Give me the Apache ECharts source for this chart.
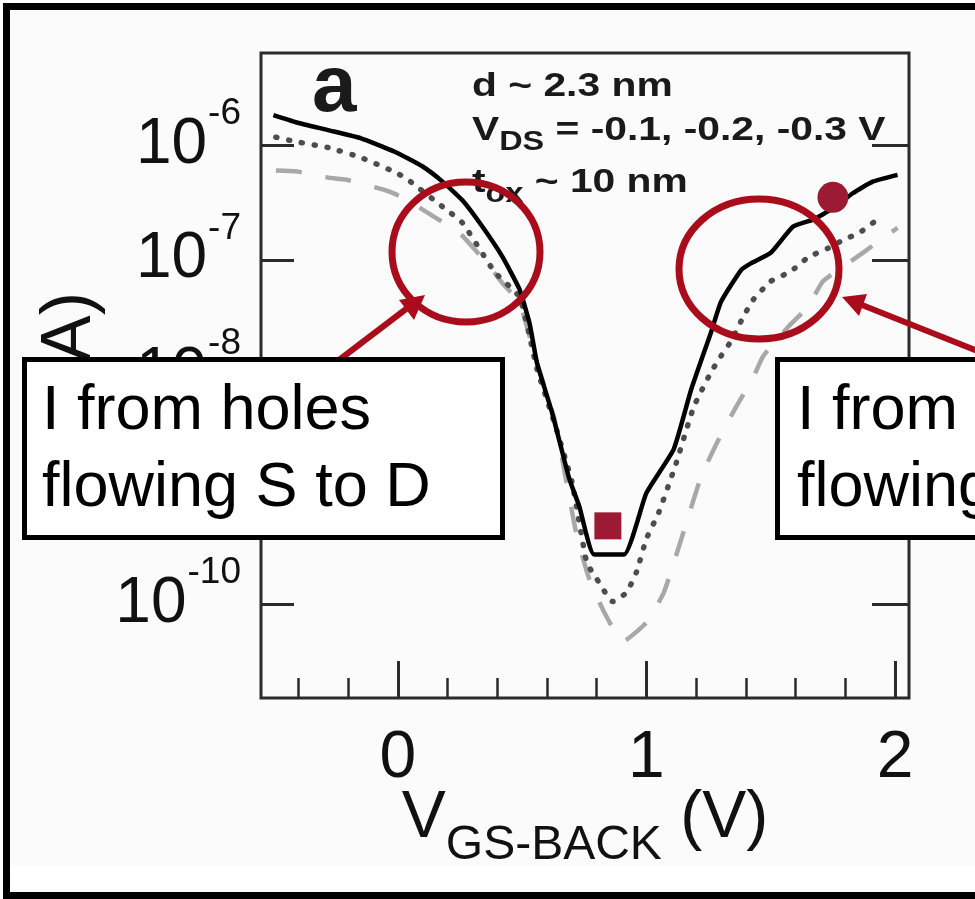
<!DOCTYPE html>
<html>
<head>
<meta charset="utf-8">
<script src="https://cdn.jsdelivr.net/npm/echarts@6/dist/echarts.min.js"></script>
<style>
  html, body { margin: 0; padding: 0; background: #fff; }
  #chart { width: 975px; height: 899px; }
</style>
</head>
<body>
<div id="chart"></div>
<script>
// Back-gate transfer curves, drain current (A) vs V_GS-BACK (V)
// V_DS = -0.1 V (solid)
const vgsSolid = [-0.50, -0.41, -0.28, -0.15, -0.01, 0.10, 0.18, 0.26, 0.34, 0.42, 0.49, 0.53, 0.56, 0.62, 0.69, 0.73, 0.79,
                  0.91, 1.00, 1.11, 1.18, 1.26, 1.30, 1.38, 1.42, 1.50, 1.59, 1.67, 1.75, 1.83, 1.91, 2.01];
const idSolid = [1.82e-6, 1.58e-6, 1.35e-6, 1.15e-6, 8.7e-7, 6.5e-7, 4.8e-7, 3.3e-7, 1.95e-7, 1.07e-7, 5.5e-8, 2.8e-8, 1.26e-8,
                 4.7e-9, 1.23e-9, 7.1e-10, 2.7e-10, 2.7e-10, 9.3e-10, 2.24e-9, 7.4e-9, 2.34e-8, 4.3e-8, 8.1e-8, 9.3e-8,
                 1.15e-7, 1.95e-7, 2.24e-7, 2.8e-7, 3.8e-7, 4.8e-7, 5.5e-7];

// V_DS = -0.2 V (dotted)
const vgsDotted = [-0.49, -0.41, -0.28, -0.15, -0.01, 0.04, 0.18, 0.26, 0.39, 0.49, 0.56, 0.63, 0.70, 0.76, 0.80, 0.865,
                   0.92, 0.96, 1.00, 1.05, 1.12, 1.19, 1.26, 1.30, 1.34, 1.39, 1.43, 1.50, 1.58, 1.65, 1.73, 1.79, 1.86, 1.94];
const idDotted = [1.17e-6, 1.07e-6, 9.5e-7, 7.8e-7, 5.8e-7, 5.0e-7, 2.9e-7, 2.1e-7, 7.8e-8, 4.7e-8, 1.12e-8, 3.8e-9, 1.17e-9,
                  2.3e-10, 1.66e-10, 1.05e-10, 1.26e-10, 1.9e-10, 3.7e-10, 6.3e-10, 1.7e-9, 5.2e-9, 1.05e-8, 1.45e-8, 1.95e-8,
                  3.2e-8, 4.5e-8, 6.5e-8, 7.9e-8, 1.05e-7, 1.26e-7, 1.48e-7, 1.74e-7, 2.34e-7];

// V_DS = -0.3 V (dashed)
const vgsDashed = [-0.49, -0.41, -0.28, -0.21, -0.06, 0.02, 0.15, 0.25, 0.37, 0.42, 0.49, 0.56, 0.63, 0.72, 0.77, 0.83, 0.905,
                   1.00, 1.07, 1.15, 1.22, 1.29, 1.36, 1.43, 1.47, 1.57, 1.65, 1.71, 1.81, 1.87, 2.01];
const idDashed = [6.0e-7, 5.9e-7, 5.2e-7, 5.0e-7, 4.1e-7, 3.5e-7, 2.34e-7, 1.7e-7, 8.7e-8, 6.3e-8, 4.2e-8, 1.26e-8, 4.1e-9,
                  3.9e-10, 1.66e-10, 8.5e-11, 4.7e-11, 6.9e-11, 1.26e-10, 4.3e-10, 1.29e-9, 2.7e-9, 5.2e-9, 9.5e-9, 1.45e-8,
                  2.6e-8, 3.9e-8, 6.5e-8, 9.3e-8, 1.15e-7, 1.9e-7];

// Highlighted operating points [V, A]
const pointSquare = [0.845, 4.8e-10];
const pointCircle = [1.75, 3.5e-7];

// Axis ticks
const xMajorTicks = [0, 1, 2];
const xMinorTicks = [-0.4, -0.2, 0.2, 0.4, 0.6, 0.8, 1.2, 1.4, 1.6, 1.8];
const yDecades = [-10, -9, -8, -7, -6];

const FONT = '"Liberation Sans", Arial, Helvetica, sans-serif';
const RED = '#a90d1b';
const MARK = '#9c1a33';

const toLog = (xs, ys) => xs.map((v, i) => [v, Math.log10(ys[i])]);

const chart = echarts.init(document.getElementById('chart'), null, { renderer: 'canvas' });

const tickStyle = { color: '#2b2b2b', width: 3 };
const noLine = { show: false, onZero: false };

const option = {
  backgroundColor: '#ffffff',
  animation: false,
  grid: {
    left: 261, right: 66, top: 53, bottom: 201,
    show: true, borderColor: '#2b2b2b', borderWidth: 3, backgroundColor: 'transparent'
  },
  xAxis: [
    {
      type: 'value', position: 'bottom', min: -0.55, max: 2.056,
      axisLine: noLine,
      splitLine: { show: false },
      axisTick: { show: true, inside: true, length: 37, customValues: xMajorTicks, lineStyle: tickStyle },
      axisLabel: {
        customValues: xMajorTicks, margin: 28,
        fontFamily: FONT, fontSize: 66, color: '#111', lineHeight: 66
      },
      name: '{v|V}{s|GS-BACK}{p| (V)}',
      nameLocation: 'middle',
      nameGap: 106,
      nameMoveOverlap: false,
      nameTextStyle: {
        rich: {
          v: { fontFamily: FONT, fontSize: 66, lineHeight: 66, color: '#111', verticalAlign: 'bottom', padding: [0, 0, 18, 0] },
          s: { fontFamily: FONT, fontSize: 48, lineHeight: 48, color: '#111', verticalAlign: 'bottom' },
          p: { fontFamily: FONT, fontSize: 66, lineHeight: 66, color: '#111', verticalAlign: 'bottom', padding: [0, 0, 18, 0] }
        }
      }
    },
    {
      type: 'value', position: 'bottom', min: -0.55, max: 2.056,
      axisLine: noLine,
      splitLine: { show: false },
      axisTick: { show: true, inside: true, length: 20, customValues: xMinorTicks, lineStyle: { color: '#2b2b2b', width: 2.5 } },
      axisLabel: { show: false }
    }
  ],
  yAxis: [
    {
      type: 'value', position: 'left', min: -10.819, max: -5.198,
      axisLine: noLine,
      splitLine: { show: false },
      axisTick: { show: true, inside: true, length: 33, customValues: yDecades, lineStyle: tickStyle },
      axisLabel: {
        customValues: yDecades, margin: 20,
        formatter: v => '{b|10}{s|' + v + '}',
        rich: {
          b: { fontFamily: FONT, fontSize: 64, lineHeight: 64, color: '#111', verticalAlign: 'middle' },
          s: { fontFamily: FONT, fontSize: 37, lineHeight: 37, color: '#111', verticalAlign: 'middle', padding: [0, 0, 62, 1] }
        }
      }
    },
    {
      type: 'value', position: 'right', min: -10.819, max: -5.198,
      axisLine: noLine,
      splitLine: { show: false },
      axisTick: { show: true, inside: true, length: 37, customValues: yDecades, lineStyle: tickStyle },
      axisLabel: { show: false }
    }
  ],
  series: [
    {
      name: 'V_DS = -0.3 V', type: 'line', xAxisIndex: 0, yAxisIndex: 0,
      data: toLog(vgsDashed, idDashed), showSymbol: false, smooth: 0.15, z: 2,
      lineStyle: { color: '#a8a8a8', width: 4.5, type: [26, 24] }
    },
    {
      name: 'V_DS = -0.2 V', type: 'line', xAxisIndex: 0, yAxisIndex: 0,
      data: toLog(vgsDotted, idDotted), showSymbol: false, smooth: 0.15, z: 3,
      lineStyle: { color: '#4d4d4d', width: 5.5, type: [1, 12], cap: 'round' }
    },
    {
      name: 'V_DS = -0.1 V', type: 'line', xAxisIndex: 0, yAxisIndex: 0,
      data: toLog(vgsSolid, idSolid), showSymbol: false, smooth: 0.15, z: 4,
      lineStyle: { color: '#000000', width: 4.5 }
    },
    {
      type: 'scatter', xAxisIndex: 0, yAxisIndex: 0, z: 5,
      data: [[pointSquare[0], Math.log10(pointSquare[1])]],
      symbol: 'rect', symbolSize: 27, itemStyle: { color: MARK, opacity: 1 }
    },
    {
      type: 'scatter', xAxisIndex: 0, yAxisIndex: 0, z: 5,
      data: [[pointCircle[0], Math.log10(pointCircle[1])]],
      symbol: 'circle', symbolSize: 31, itemStyle: { color: MARK, opacity: 1 }
    }
  ],
  graphic: [
    // faint picture background
    { type: 'rect', z: -10, silent: true, shape: { x: 11, y: 11, width: 964, height: 855 }, style: { fill: '#fbfbfb' } },
    // y axis title
    {
      type: 'text', z: 10, x: 71, y: 292, rotation: Math.PI / 2,
      style: { text: 'I (A)', font: '70px ' + FONT, fill: '#111', align: 'right', verticalAlign: 'middle' }
    },
    // panel letter and parameters
    { type: 'text', z: 10, x: 312, y: 89, style: { text: 'a', font: 'bold 80px ' + FONT, fill: '#1a1a1a', verticalAlign: 'middle' } },
    {
      type: 'text', z: 10, x: 472, y: 87, scaleX: 1.2,
      style: { text: 'd ~ 2.3 nm', font: 'bold 34px ' + FONT, fill: '#1a1a1a', verticalAlign: 'middle' }
    },
    {
      type: 'text', z: 10, x: 472, y: 116, scaleX: 1.2,
      style: {
        text: '{m|V}{d|DS}{m| = -0.1, -0.2, -0.3 V}', verticalAlign: 'top',
        rich: {
          m: { font: 'bold 34px ' + FONT, fill: '#1a1a1a', lineHeight: 40, verticalAlign: 'bottom', padding: [0, 0, 8, 0] },
          d: { font: 'bold 27px ' + FONT, fill: '#1a1a1a', lineHeight: 30, verticalAlign: 'bottom' }
        }
      }
    },
    {
      type: 'text', z: 10, x: 472, y: 168, scaleX: 1.2,
      style: {
        text: '{m|t}{d|ox}{m| ~ 10 nm}', verticalAlign: 'top',
        rich: {
          m: { font: 'bold 34px ' + FONT, fill: '#1a1a1a', lineHeight: 40, verticalAlign: 'bottom', padding: [0, 0, 8, 0] },
          d: { font: 'bold 27px ' + FONT, fill: '#1a1a1a', lineHeight: 30, verticalAlign: 'bottom' }
        }
      }
    },
    // highlighted regions
    { type: 'ellipse', z: 20, shape: { cx: 466, cy: 252, rx: 74, ry: 70 }, style: { fill: 'none', stroke: RED, lineWidth: 7 } },
    { type: 'ellipse', z: 20, shape: { cx: 759, cy: 269, rx: 80, ry: 70 }, style: { fill: 'none', stroke: RED, lineWidth: 7 } },
    // arrows
    { type: 'line', z: 20, shape: { x1: 339, y1: 360, x2: 410, y2: 306 }, style: { stroke: RED, lineWidth: 6 } },
    { type: 'polygon', z: 20, shape: { points: [[425, 295], [414, 320], [399, 300]] }, style: { fill: RED } },
    { type: 'line', z: 20, shape: { x1: 980, y1: 352, x2: 862, y2: 305 }, style: { stroke: RED, lineWidth: 6 } },
    { type: 'polygon', z: 20, shape: { points: [[842, 297], [867, 294], [859, 316]] }, style: { fill: RED } },
    // callout boxes
    {
      type: 'rect', z: 30, shape: { x: 24.5, y: 359.5, width: 478, height: 178 },
      style: { fill: '#ffffff', stroke: '#000', lineWidth: 5 }
    },
    {
      type: 'text', z: 31, x: 42, y: 373,
      style: { text: 'I from holes\nflowing S to D', font: '63px ' + FONT, lineHeight: 77, fill: '#000', verticalAlign: 'top' }
    },
    {
      type: 'rect', z: 30, shape: { x: 777.5, y: 359.5, width: 320, height: 178 },
      style: { fill: '#ffffff', stroke: '#000', lineWidth: 5 }
    },
    {
      type: 'text', z: 31, x: 797, y: 373,
      style: { text: 'I from electrons\nflowing D to S', font: '63px ' + FONT, lineHeight: 77, fill: '#000', verticalAlign: 'top' }
    },
    // outer frame
    {
      type: 'rect', z: 40, silent: true, shape: { x: 6.5, y: 6.5, width: 1000, height: 889 },
      style: { fill: 'none', stroke: '#000', lineWidth: 7 }
    }
  ]
};

chart.setOption(option);
</script>
</body>
</html>
